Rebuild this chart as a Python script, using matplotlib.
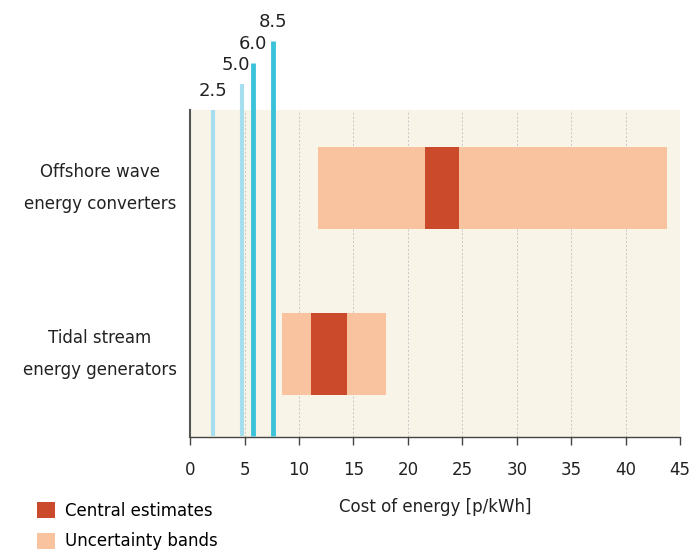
import matplotlib
matplotlib.use("Agg")
import matplotlib.pyplot as plt
from matplotlib.patches import Patch
import matplotlib.transforms as mtransforms

plt.rcParams['font.family'] = ['DejaVu Sans']

# Data
categories = ["Tidal stream\nenergy generators", "Offshore wave\nenergy converters"]
band_low = [8.45, 11.75]
band_high = [18.0, 43.8]
central_low = [11.1, 21.6]
central_high = [14.4, 24.7]

ref_positions = [2.1, 4.8, 5.8, 7.6]
ref_labels = ["2.5", "5.0", "6.0", "8.5"]
ref_colors = ["#a6def0", "#a6def0", "#3cc3d9", "#3cc3d9"]
ref_widths = [3.0, 3.0, 3.5, 3.5]
ref_tops = [1.0, 1.08, 1.144, 1.21]       # axes fraction (style)
label_shift_pt = [0, -5, 0, 0]            # label nudges in points (style)

x_ticks = [0, 5, 10, 15, 20, 25, 30, 35, 40, 45]

band_color = "#f9c3a0"
central_color = "#cc4a2c"
text_color = "#222222"

fig = plt.figure(figsize=(6.94, 5.52), dpi=100)
ax = fig.add_axes([0.274, 0.208, 0.706, 0.593])
ax.set_facecolor("#f8f4e8")

ypos = list(range(len(categories)))
h = 0.49
ax.barh(ypos, [hi - lo for lo, hi in zip(band_low, band_high)], left=band_low,
        height=h, color=band_color, zorder=2)
ax.barh(ypos, [hi - lo for lo, hi in zip(central_low, central_high)], left=central_low,
        height=h, color=central_color, zorder=3)

trans = mtransforms.blended_transform_factory(ax.transData, ax.transAxes)
for xp, lab, c, w, top, sh in zip(ref_positions, ref_labels, ref_colors, ref_widths,
                                  ref_tops, label_shift_pt):
    ax.plot([xp, xp], [0.003, top], color=c, lw=w, transform=trans, clip_on=False,
            zorder=4, solid_capstyle='butt')
    ax.annotate(lab, xy=(xp, top + 0.03), xycoords=trans, xytext=(sh, 0),
                textcoords='offset points', ha='center', va='bottom',
                fontsize=13, color=text_color, annotation_clip=False)

ax.set_xlim(0, 45)
ax.set_ylim(-0.5, 1.47)
ax.set_xticks(x_ticks)
ax.set_xticklabels([str(t) for t in x_ticks], fontsize=12, color=text_color)
ax.set_yticks(ypos)
ax.set_yticklabels(categories, fontsize=12, color=text_color, linespacing=2.0,
                   ha='center', va='center')
ax.tick_params(axis='y', length=0, pad=65)
ax.tick_params(axis='x', direction='out', length=6, width=1, color='#444444', pad=11)

ax.grid(axis='x', color='#c8c8c8', linestyle=(0, (2, 2)), linewidth=0.7, zorder=1)
ax.set_axisbelow(True)

for s in ['top', 'right']:
    ax.spines[s].set_visible(False)
ax.spines['left'].set_color('#555555')
ax.spines['left'].set_linewidth(1.5)
ax.spines['bottom'].set_color('#444444')
ax.spines['bottom'].set_linewidth(1.0)

ax.set_xlabel("Cost of energy [p/kWh]", fontsize=12, color=text_color, labelpad=14)

handles = [Patch(facecolor=central_color, label="Central estimates"),
           Patch(facecolor=band_color, label="Uncertainty bands")]
fig.legend(handles=handles, loc='upper left', bbox_to_anchor=(0.053, 0.091),
           frameon=False, fontsize=12, handlelength=1.1, handleheight=1.1,
           handletextpad=0.6, labelspacing=0.75, borderpad=0, borderaxespad=0)

fig.savefig("out.png", dpi=100, facecolor='white')
